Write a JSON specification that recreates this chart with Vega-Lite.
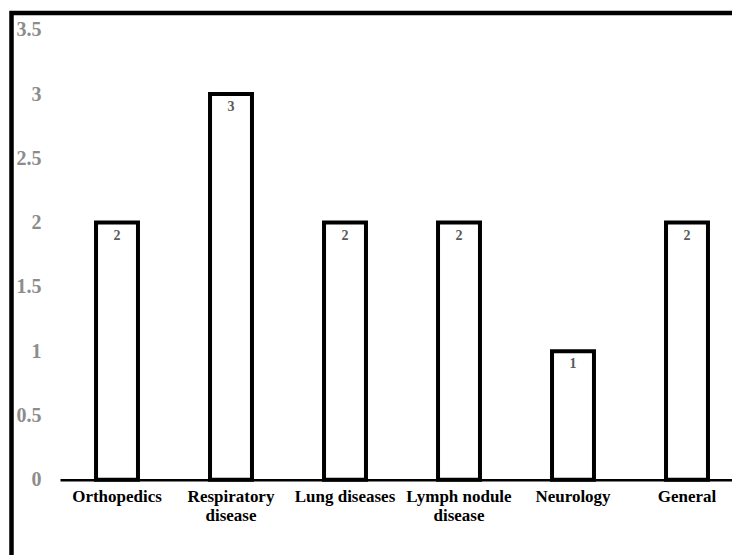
{
  "$schema": "https://vega.github.io/schema/vega-lite/v6.json",
  "autosize": {"type": "none"},
  "padding": {"left": 11.5, "top": 13, "right": 0, "bottom": 0},
  "width": 780,
  "height": 556.8,
  "background": "white",
  "config": {
    "view": {"stroke": "black", "strokeWidth": 4.5, "fill": "white"},
    "font": "'Liberation Serif', 'Times New Roman', serif"
  },
  "data": {
    "values": [
      {"category": "Orthopedics", "value": 2},
      {"category": "Respiratory|disease", "value": 3},
      {"category": "Lung diseases", "value": 2},
      {"category": "Lymph nodule|disease", "value": 2},
      {"category": "Neurology", "value": 1},
      {"category": "General", "value": 2}
    ]
  },
  "encoding": {
    "x": {
      "field": "category",
      "type": "nominal",
      "sort": null,
      "scale": {"range": [48.5, 732.5], "paddingInner": 0.632, "paddingOuter": 0.316},
      "axis": {
        "title": null,
        "orient": "bottom",
        "offset": -90.1,
        "labelAngle": 0,
        "labelExpr": "split(datum.label, '|')",
        "labelFont": "'Liberation Serif', 'Times New Roman', serif",
        "labelFontWeight": "bold",
        "labelFontSize": 17,
        "labelColor": "black",
        "labelPadding": 9,
        "labelLineHeight": 19,
        "ticks": false,
        "domain": true,
        "domainColor": "black",
        "domainWidth": 2.5,
        "grid": false
      }
    },
    "y": {
      "field": "value",
      "type": "quantitative",
      "scale": {"domain": [-0.7, 3.63], "nice": false, "zero": false},
      "axis": {
        "title": null,
        "orient": "left",
        "offset": -29.5,
        "values": [0, 0.5, 1, 1.5, 2, 2.5, 3, 3.5],
        "format": "~g",
        "domain": false,
        "ticks": false,
        "tickSize": 0,
        "labelPadding": 0,
        "grid": false,
        "labelFont": "'Liberation Serif', 'Times New Roman', serif",
        "labelFontWeight": "bold",
        "labelFontSize": 20,
        "labelColor": "#8c8c8c",
        "labelBaseline": "middle"
      }
    }
  },
  "layer": [
    {
      "mark": {"type": "bar", "fill": "white", "stroke": "black", "strokeWidth": 4}
    },
    {
      "mark": {
        "type": "text",
        "baseline": "top",
        "dy": 6,
        "fontSize": 14,
        "fontWeight": "bold",
        "font": "'Liberation Serif', 'Times New Roman', serif",
        "color": "#595959"
      },
      "encoding": {"text": {"field": "value", "type": "quantitative"}}
    }
  ]
}
